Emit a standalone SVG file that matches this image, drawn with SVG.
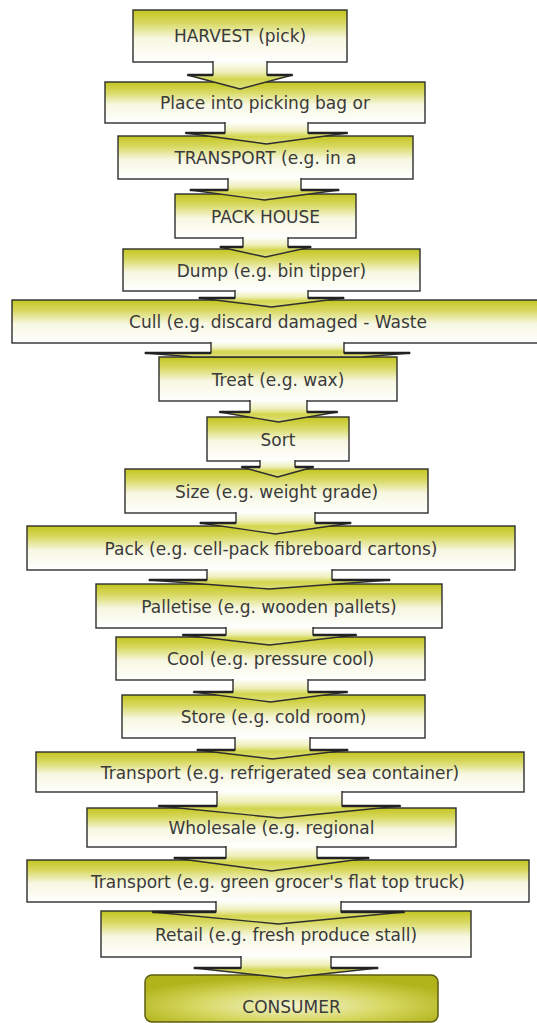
<svg xmlns="http://www.w3.org/2000/svg" width="537" height="1023" viewBox="0 0 537 1023">
<defs>
<linearGradient id="boxFill" x1="0" y1="0" x2="0" y2="1">
<stop offset="0" stop-color="#c3c51f"/>
<stop offset="0.25" stop-color="#d8d962"/>
<stop offset="0.55" stop-color="#f7f7e2"/>
<stop offset="1" stop-color="#ffffff"/>
</linearGradient>
<linearGradient id="arrowFill" x1="0" y1="0" x2="0" y2="1">
<stop offset="0" stop-color="#ffffff"/>
<stop offset="0.4" stop-color="#eeefb8"/>
<stop offset="0.65" stop-color="#d3d54e"/>
<stop offset="1" stop-color="#dfe07e"/>
</linearGradient>
<radialGradient id="consumerFill" cx="0.5" cy="0.65" r="0.6">
<stop offset="0" stop-color="#f3f3cf"/>
<stop offset="0.55" stop-color="#d6d760"/>
<stop offset="1" stop-color="#b2b41c"/>
</radialGradient>
</defs>
<style>
.box{fill:url(#boxFill);stroke:#2e2e2e;stroke-width:1.4}
.cons{fill:url(#consumerFill);stroke:#5c5c12;stroke-width:1.5}
.lbl{font-family:"DejaVu Sans",Verdana,sans-serif;font-size:17px;fill:#3a3a3a;text-anchor:middle}
.arr{fill:url(#arrowFill);stroke:#2e2e2e;stroke-width:1.4;stroke-linejoin:round}
.sh{fill:none;stroke:#222;stroke-width:2.6}
</style>
<rect width="537" height="1023" fill="#ffffff"/>
<g id="nodes">
<g id="harvest"><rect class="box" x="133" y="10" width="214" height="52"/><text class="lbl" x="240" y="42">HARVEST (pick)</text></g>
<g id="place"><rect class="box" x="105" y="82" width="320" height="41"/><text class="lbl" x="265" y="109">Place into picking bag or</text></g>
<g id="transport1"><rect class="box" x="118" y="136" width="295" height="43"/><text class="lbl" x="265.5" y="164">TRANSPORT (e.g. in a</text></g>
<g id="packhouse"><rect class="box" x="175" y="194" width="181" height="44"/><text class="lbl" x="265.5" y="222.5">PACK HOUSE</text></g>
<g id="dump"><rect class="box" x="123" y="249" width="297" height="42"/><text class="lbl" x="271.5" y="276.5">Dump (e.g. bin tipper)</text></g>
<g id="cull"><rect class="box" x="12" y="300" width="533" height="43"/><text class="lbl" x="278" y="328">Cull (e.g. discard damaged - Waste</text></g>
<g id="treat"><rect class="box" x="159" y="357" width="238" height="44"/><text class="lbl" x="278" y="385.5">Treat (e.g. wax)</text></g>
<g id="sort"><rect class="box" x="207" y="417" width="142" height="44"/><text class="lbl" x="278" y="445.5">Sort</text></g>
<g id="size"><rect class="box" x="125" y="469" width="303" height="44"/><text class="lbl" x="276.5" y="497.5">Size (e.g. weight grade)</text></g>
<g id="pack"><rect class="box" x="27" y="526" width="488" height="44"/><text class="lbl" x="271" y="554.5">Pack (e.g. cell-pack fibreboard cartons)</text></g>
<g id="palletise"><rect class="box" x="96" y="584" width="346" height="44"/><text class="lbl" x="269" y="612.5">Palletise (e.g. wooden pallets)</text></g>
<g id="cool"><rect class="box" x="116" y="637" width="309" height="43"/><text class="lbl" x="270.5" y="665">Cool (e.g. pressure cool)</text></g>
<g id="store"><rect class="box" x="122" y="695" width="303" height="43"/><text class="lbl" x="273.5" y="723">Store (e.g. cold room)</text></g>
<g id="transport2"><rect class="box" x="36" y="752" width="488" height="40"/><text class="lbl" x="280" y="778.5">Transport (e.g. refrigerated sea container)</text></g>
<g id="wholesale"><rect class="box" x="87" y="808" width="369" height="39"/><text class="lbl" x="271.5" y="834">Wholesale (e.g. regional</text></g>
<g id="transport3"><rect class="box" x="27" y="860" width="502" height="42"/><text class="lbl" x="278" y="887.5">Transport (e.g. green grocer's flat top truck)</text></g>
<g id="retail"><rect class="box" x="101" y="911" width="370" height="46"/><text class="lbl" x="286" y="940.5">Retail (e.g. fresh produce stall)</text></g>
<g id="consumer"><rect class="cons" x="145" y="975" width="293" height="47" rx="7"/><text class="lbl" x="291.5" y="1013">CONSUMER</text></g>
</g>
<g id="connectors">
<g><path class="arr" d="M213 61 V75 H187.5 L240 89 L292.5 75 H267 V61"/><path class="sh" d="M187.5 75 H213 M267 75 H292.5"/></g>
<g><path class="arr" d="M225 122 V133 H185.5 L266.5 144 L347.5 133 H308 V122"/><path class="sh" d="M185.5 133 H225 M308 133 H347.5"/></g>
<g><path class="arr" d="M228 178 V190 H190 L264.5 200 L339 190 H301 V178"/><path class="sh" d="M190 190 H228 M301 190 H339"/></g>
<g><path class="arr" d="M243 237 V247 H220 L265.5 257 L311 247 H288 V237"/><path class="sh" d="M220 247 H243 M288 247 H311"/></g>
<g><path class="arr" d="M235 290 V298 H199 L271.5 307 L344 298 H308 V290"/><path class="sh" d="M199 298 H235 M308 298 H344"/></g>
<g><path class="arr" d="M211 342 V353 H145 L193.2 357 H361.8 L410 353 H344 V342"/><path class="sh" d="M145 353 H211 M344 353 H410"/></g>
<g><path class="arr" d="M250 400 V412 H219.5 L278.5 422 L337.5 412 H307 V400"/><path class="sh" d="M219.5 412 H250 M307 412 H337.5"/></g>
<g><path class="arr" d="M260 460 V467 H241.5 L277.5 477 L313.5 467 H295 V460"/><path class="sh" d="M241.5 467 H260 M295 467 H313.5"/></g>
<g><path class="arr" d="M236 512 V523 H200 L275.5 534 L351 523 H315 V512"/><path class="sh" d="M200 523 H236 M315 523 H351"/></g>
<g><path class="arr" d="M207 569 V580 H149 L269.5 589 L390 580 H332 V569"/><path class="sh" d="M149 580 H207 M332 580 H390"/></g>
<g><path class="arr" d="M226 627 V635 H182.5 L269.5 645 L356.5 635 H313 V627"/><path class="sh" d="M182.5 635 H226 M313 635 H356.5"/></g>
<g><path class="arr" d="M233 679 V692 H193.5 L270.5 702 L347.5 692 H308 V679"/><path class="sh" d="M193.5 692 H233 M308 692 H347.5"/></g>
<g><path class="arr" d="M235 737 V750 H197 L272.5 759 L348 750 H310 V737"/><path class="sh" d="M197 750 H235 M310 750 H348"/></g>
<g><path class="arr" d="M217 791 V806 H158.5 L279.5 818 L400.5 806 H342 V791"/><path class="sh" d="M158.5 806 H217 M342 806 H400.5"/></g>
<g><path class="arr" d="M226 846 V858 H174 L271.5 871 L369 858 H317 V846"/><path class="sh" d="M174 858 H226 M317 858 H369"/></g>
<g><path class="arr" d="M216 901 V912 H152.5 L278.5 924 L404.5 912 H341 V901"/><path class="sh" d="M152.5 912 H216 M341 912 H404.5"/></g>
<g><path class="arr" d="M241 956 V968 H194 L286 978 L378 968 H331 V956"/><path class="sh" d="M194 968 H241 M331 968 H378"/></g>
</g>
</svg>
